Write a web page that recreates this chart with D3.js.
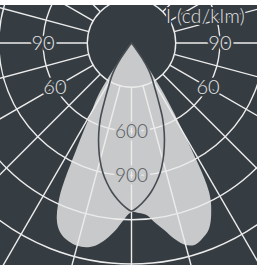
<!DOCTYPE html>
<html>
<head>
<meta charset="utf-8">
<script src="https://cdn.jsdelivr.net/npm/d3@7"></script>
<style>
  html, body { margin: 0; padding: 0; background: #fff; }
  svg { display: block; }
</style>
</head>
<body>
<div id="chart-area"></div>
<script>
// polar light distribution (cd/klm), gamma measured from nadir

// gamma angles (deg)
var gammas = [0, 2.5, 5, 7.5, 10, 12.5, 15, 17.5, 20, 22.5, 25, 27.5, 30, 32.5, 35, 37.5, 40, 42.5, 45, 47.5, 50, 52.5, 55];
// light grey plane, C0 side (right)
var planeA_C0 = [1147, 1155, 1172, 1230, 1290, 1365, 1420, 1435, 1410, 1370, 1280, 1140, 720, 420, 110, 20, 0, 0, 0, 0, 0, 0, 0];
// light grey plane, C180 side (left)
var planeA_C180 = [1147, 1200, 1280, 1345, 1395, 1420, 1425, 1412, 1385, 1320, 1160, 800, 550, 420, 150, 30, 0, 0, 0, 0, 0, 0, 0];
// dark outline plane, C90 / C270 (symmetric)
var planeB = [1140, 1110, 1068, 1020, 963, 900, 825, 740, 650, 550, 430, 340, 280, 220, 130, 40, 0, 0, 0, 0, 0, 0, 0];

// grid
var rings = [300, 600, 900, 1200, 1500, 1800];
var ringLabels = [600, 900];
var angleLabels = [60, 90];
var unitLabel = "I (cd/klm)";

var svg_x = 259, svg_y = 265;
var frame = {left: 0, top: 5, right: 257, bottom: 265};
var cx = 131.5, cy = 43;

var bg = "#353c42", fillA = "#c8c9ca", gridCol = "#ececec", lineB = "#464c52";

var r = d3.scaleLinear().domain([0, 300]).range([0, 44.2]);

var svg = d3.select("#chart-area").append("svg")
  .attr("width", svg_x)
  .attr("height", svg_y);

svg.append("clipPath").attr("id", "clip")
  .append("rect")
    .attr("x", frame.left).attr("y", frame.top)
    .attr("width", frame.right - frame.left)
    .attr("height", frame.bottom - frame.top);

var root = svg.append("g").attr("clip-path", "url(#clip)");

root.append("rect")
  .attr("x", frame.left).attr("y", frame.top)
  .attr("width", frame.right - frame.left)
  .attr("height", frame.bottom - frame.top)
  .attr("fill", bg);

var g = root.append("g").attr("transform", "translate(" + cx + "," + cy + ")");

var rad = function(deg) { return deg * Math.PI / 180; };

// build one closed outline from left half + right half
function outline(left, right) {
  var pts = [];
  var lastL = left.findIndex(function(v, i) { return v === 0 && i > 0; });
  var lastR = right.findIndex(function(v, i) { return v === 0 && i > 0; });
  for (var i = lastL; i >= 0; i--) pts.push([Math.PI + rad(gammas[i]), r(left[i])]);
  for (var j = 1; j <= lastR; j++) pts.push([Math.PI - rad(gammas[j]), r(right[j])]);
  return pts;
}

var radial = d3.lineRadial()
  .angle(function(d) { return d[0]; })
  .radius(function(d) { return d[1]; })
  .curve(d3.curveCatmullRom.alpha(0.5));

// light grey plane
g.append("path")
  .attr("d", radial(outline(planeA_C180, planeA_C0)) + "Z")
  .attr("fill", fillA);

// radial lines every 15 deg, starting at the 300 ring
var spokes = d3.range(0, 360, 15);
g.selectAll(".spoke").data(spokes).enter().append("line")
  .attr("class", "spoke")
  .attr("x1", function(d) { return r(rings[0]) * Math.sin(rad(d)); })
  .attr("y1", function(d) { return r(rings[0]) * Math.cos(rad(d)); })
  .attr("x2", function(d) { return 420 * Math.sin(rad(d)); })
  .attr("y2", function(d) { return 420 * Math.cos(rad(d)); })
  .attr("stroke", gridCol)
  .attr("stroke-width", 1.4);

g.selectAll(".ring").data(rings).enter().append("circle")
  .attr("class", "ring")
  .attr("r", function(d) { return r(d); })
  .attr("fill", "none")
  .attr("stroke", gridCol)
  .attr("stroke-width", 1.4);

// dark outline plane
g.append("path")
  .attr("d", radial(outline(planeB, planeB)) + "Z")
  .attr("fill", "none")
  .attr("stroke", lineB)
  .attr("stroke-width", 1.6);

var font = "Lato, 'DejaVu Sans', sans-serif";

// angle labels on the 600 ring
var angLab = [];
angleLabels.forEach(function(a) { angLab.push(a, -a); });
g.selectAll(".ang").data(angLab).enter().append("text")
  .attr("class", "ang")
  .attr("x", function(d) { return r(600) * Math.sin(rad(d)); })
  .attr("y", function(d) { return r(600) * Math.cos(rad(d)); })
  .attr("dy", "0.35em")
  .attr("text-anchor", "middle")
  .attr("font-family", font)
  .attr("font-weight", 300)
  .attr("font-size", 20)
  .attr("fill", "#e4e4e4")
  .attr("stroke", bg)
  .attr("stroke-width", 5)
  .attr("paint-order", "stroke")
  .text(function(d) { return Math.abs(d); });

// intensity labels on the nadir axis
g.selectAll(".rl").data(ringLabels).enter().append("text")
  .attr("class", "rl")
  .attr("x", 0)
  .attr("y", function(d) { return r(d); })
  .attr("dy", "0.35em")
  .attr("text-anchor", "middle")
  .attr("font-family", font)
  .attr("font-weight", 300)
  .attr("font-size", 19)
  .attr("fill", "#55595d")
  .attr("stroke", fillA)
  .attr("stroke-width", 5)
  .attr("paint-order", "stroke")
  .text(function(d) { return d; });

root.append("text")
  .attr("x", 166)
  .attr("y", 23)
  .attr("font-family", font)
  .attr("font-weight", 300)
  .attr("font-size", 19)
  .attr("letter-spacing", 0.4)
  .attr("fill", "#e4e4e4")
  .attr("stroke", bg)
  .attr("stroke-width", 4)
  .attr("paint-order", "stroke")
  .text(unitLabel);
</script>
</body>
</html>
